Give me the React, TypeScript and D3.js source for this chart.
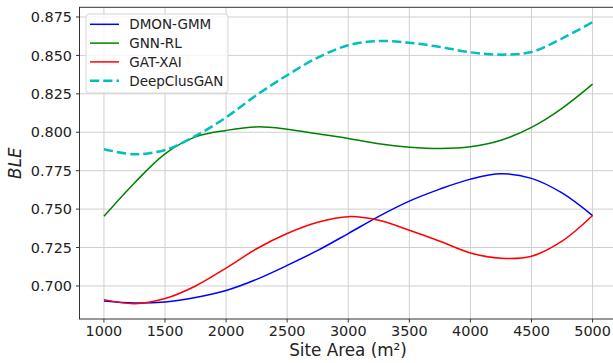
import React from "react";
import * as d3 from "d3";

// Site area (m²) sampled every 250
const areas = [1000, 1250, 1500, 1750, 2000, 2250, 2500, 2750, 3000, 3250, 3500, 3750, 4000, 4250, 4500, 4750, 5000];

const dmonGmm = [0.6902, 0.6889, 0.6896, 0.6925, 0.6971, 0.7043, 0.7134, 0.7231, 0.7341, 0.7453, 0.7552, 0.763, 0.7695, 0.773, 0.770, 0.7605, 0.7458];
const gnnRl = [0.7453, 0.767, 0.786, 0.797, 0.8012, 0.8035, 0.802, 0.799, 0.796, 0.7925, 0.7903, 0.7894, 0.7905, 0.7948, 0.8032, 0.8156, 0.8313];
const gatXai = [0.6911, 0.6885, 0.6918, 0.700, 0.7116, 0.7242, 0.7341, 0.7414, 0.7451, 0.7427, 0.7362, 0.7291, 0.7215, 0.718, 0.7193, 0.7291, 0.7458];
const deepClusGan = [0.789, 0.7857, 0.7885, 0.7976, 0.8097, 0.8242, 0.8371, 0.8486, 0.8566, 0.8594, 0.8582, 0.8555, 0.852, 0.8505, 0.8522, 0.861, 0.8717];

const xTicks = [1000, 1500, 2000, 2500, 3000, 3500, 4000, 4500, 5000];
const yTicks = [0.7, 0.725, 0.75, 0.775, 0.8, 0.825, 0.85, 0.875];

const series = [
  { name: "DMON-GMM", values: dmonGmm, color: "#0000ff", width: 1.5, dash: null },
  { name: "GNN-RL", values: gnnRl, color: "#008000", width: 1.5, dash: null },
  { name: "GAT-XAI", values: gatXai, color: "#ff0000", width: 1.5, dash: null },
  { name: "DeepClusGAN", values: deepClusGan, color: "#00bfbf", width: 2.5, dash: "9.25,4" },
];

const W = 613,
  H = 363;
const margin = { left: 79.5, top: 7.3, right: 617, bottom: 319 };
const font = "DejaVu Sans, sans-serif";

const App = () => {
  const x = d3.scaleLinear().domain([800, 5200]).range([margin.left, margin.right]);
  const y = d3.scaleLinear().domain([0.6785, 0.8813]).range([margin.bottom, margin.top]);

  const line = d3
    .line<number>()
    .x((_d, i) => x(areas[i]))
    .y((d) => y(d))
    .curve(d3.curveCatmullRom.alpha(0.5));

  return (
    <svg width={W} height={H} style={{ position: "absolute", left: 0, top: 0 }} fontFamily={font}>
      <rect width={W} height={H} fill="#fff" />
      {/* grid */}
      {xTicks.map((t) => (
        <line key={"gx" + t} x1={x(t)} x2={x(t)} y1={margin.top} y2={margin.bottom} stroke="#d0d0d0" strokeWidth={1} />
      ))}
      {yTicks.map((t) => (
        <line key={"gy" + t} x1={margin.left} x2={margin.right} y1={y(t)} y2={y(t)} stroke="#d0d0d0" strokeWidth={1} />
      ))}

      {/* lines */}
      {series.map((s) => (
        <path
          key={s.name}
          d={line(s.values) || ""}
          fill="none"
          stroke={s.color}
          strokeWidth={s.width}
          strokeDasharray={s.dash || undefined}
        />
      ))}

      {/* spines */}
      <rect
        x={margin.left}
        y={margin.top}
        width={margin.right - margin.left}
        height={margin.bottom - margin.top}
        fill="none"
        stroke="#333"
        strokeWidth={1}
      />

      {/* x axis */}
      {xTicks.map((t) => (
        <g key={"tx" + t} transform={`translate(${x(t)},${margin.bottom})`}>
          <line y2={3.5} stroke="#333" />
          <text y={17} textAnchor="middle" fontSize={14.4} fill="#222">
            {t}
          </text>
        </g>
      ))}
      <text x={348} y={356} textAnchor="middle" fontSize={16.8} fill="#222">
        Site Area (m²)
      </text>

      {/* y axis */}
      {yTicks.map((t) => (
        <g key={"ty" + t} transform={`translate(${margin.left},${y(t)})`}>
          <line x2={-3.5} stroke="#333" />
          <text x={-7.5} dy="0.36em" textAnchor="end" fontSize={14.4} fill="#222">
            {d3.format(".3f")(t)}
          </text>
        </g>
      ))}
      <text
        transform={`translate(21,${(margin.top + margin.bottom) / 2}) rotate(-90)`}
        textAnchor="middle"
        fontSize={16.8}
        fontStyle="italic"
        fill="#222"
      >
        BLE
      </text>

      {/* legend */}
      <g transform="translate(86,14)">
        <rect width={142} height={79} rx={3} fill="#fff" fillOpacity={0.8} stroke="#d6d6d6" />
        {series.map((s, i) => (
          <g key={"lg" + s.name} transform={`translate(0,${10.3 + i * 18.8})`}>
            <line
              x1={4}
              x2={33}
              stroke={s.color}
              strokeWidth={s.width}
              strokeDasharray={s.dash || undefined}
            />
            <text x={43.3} dy="0.36em" fontSize={13.5} fill="#222">
              {s.name}
            </text>
          </g>
        ))}
      </g>
    </svg>
  );
};

export default App;
